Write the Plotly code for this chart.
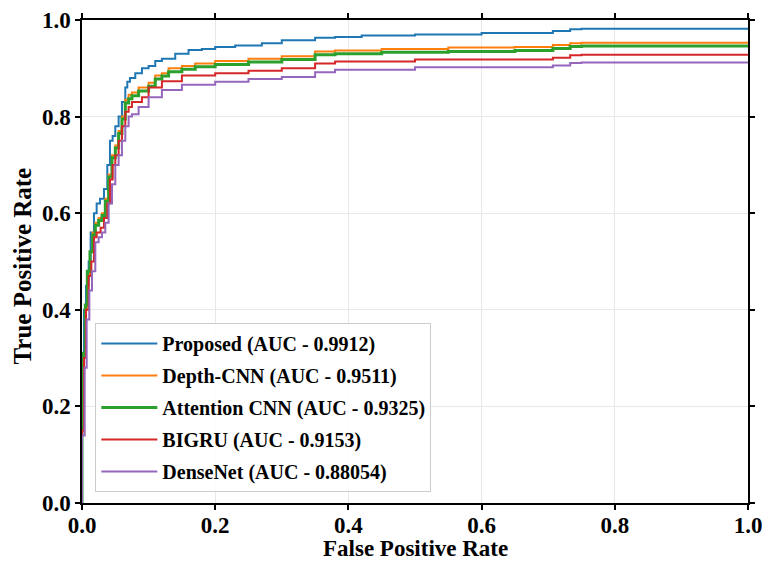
import plotly.graph_objects as go

names = ["Proposed (AUC - 0.9912)", "Depth-CNN (AUC - 0.9511)", "Attention CNN (AUC - 0.9325)",
         "BIGRU (AUC - 0.9153)", "DenseNet (AUC - 0.88054)"]
colors = ["#1f77b4", "#ff7f0e", "#2ca02c", "#d62728", "#9467bd"]
widths = [2, 2, 3, 2, 2]

prop_fpr = [0, 0.0, 0.003, 0.006, 0.01, 0.013, 0.018, 0.022, 0.027, 0.033, 0.038, 0.042, 0.046, 0.05, 0.055, 0.06,
            0.065, 0.068, 0.072, 0.08, 0.09, 0.1, 0.11, 0.12, 0.14, 0.16, 0.18, 0.2, 0.23, 0.27, 0.3, 0.35, 0.38,
            0.42, 0.5, 0.6, 0.707, 0.733, 0.75, 1.0]
prop_tpr = [0, 0.15, 0.3, 0.4, 0.45, 0.5, 0.56, 0.6, 0.62, 0.63, 0.65, 0.7, 0.75, 0.76, 0.78, 0.8,
            0.83, 0.86, 0.872, 0.88, 0.89, 0.9, 0.905, 0.915, 0.92, 0.93, 0.938, 0.94, 0.944, 0.947, 0.952, 0.958, 0.963,
            0.965, 0.968, 0.97, 0.973, 0.977, 0.981, 0.982]

dcnn_fpr = [0, 0.002, 0.005, 0.008, 0.012, 0.016, 0.02, 0.025, 0.03, 0.035, 0.04, 0.045, 0.05, 0.055, 0.06, 0.065,
            0.07, 0.075, 0.085, 0.1, 0.11, 0.12, 0.13, 0.15, 0.17, 0.2, 0.25, 0.3, 0.35, 0.38, 0.45, 0.55, 0.65,
            0.707, 0.733, 0.75, 1.0]
dcnn_tpr = [0, 0.15, 0.3, 0.4, 0.47, 0.52, 0.56, 0.58, 0.59, 0.6, 0.63, 0.68, 0.72, 0.74, 0.77, 0.8,
            0.835, 0.845, 0.85, 0.86, 0.87, 0.885, 0.89, 0.9, 0.905, 0.91, 0.915, 0.92, 0.925, 0.935, 0.937, 0.94, 0.943,
            0.944, 0.948, 0.952, 0.953]

att_fpr = [0, 0.002, 0.005, 0.008, 0.012, 0.016, 0.02, 0.025, 0.03, 0.035, 0.04, 0.045, 0.05, 0.055, 0.06, 0.065,
           0.07, 0.075, 0.085, 0.1, 0.11, 0.12, 0.13, 0.15, 0.17, 0.2, 0.25, 0.3, 0.35, 0.38, 0.45, 0.55, 0.65,
           0.707, 0.733, 0.75, 1.0]
att_tpr = [0, 0.16, 0.31, 0.41, 0.48, 0.52, 0.555, 0.575, 0.585, 0.595, 0.625, 0.675, 0.715, 0.735, 0.765, 0.795,
           0.828, 0.837, 0.843, 0.853, 0.863, 0.878, 0.884, 0.893, 0.898, 0.903, 0.908, 0.913, 0.918, 0.928, 0.93, 0.933, 0.935,
           0.937, 0.941, 0.945, 0.946]

bigru_fpr = [0, 0.003, 0.006, 0.01, 0.014, 0.018, 0.022, 0.028, 0.033, 0.038, 0.042, 0.046, 0.05, 0.055, 0.06, 0.065,
             0.07, 0.075, 0.09, 0.1, 0.12, 0.15, 0.2, 0.25, 0.3, 0.35, 0.38, 0.5, 0.707, 0.733, 0.75, 1.0]
bigru_tpr = [0, 0.15, 0.3, 0.4, 0.47, 0.5, 0.55, 0.56, 0.57, 0.59, 0.62, 0.67, 0.7, 0.72, 0.75, 0.78,
             0.81, 0.82, 0.83, 0.84, 0.86, 0.873, 0.885, 0.89, 0.895, 0.9, 0.91, 0.914, 0.918, 0.922, 0.927, 0.928]

dense_fpr = [0, 0.004, 0.007, 0.011, 0.015, 0.02, 0.025, 0.03, 0.035, 0.04, 0.045, 0.05, 0.055, 0.06, 0.065, 0.07,
             0.075, 0.085, 0.1, 0.12, 0.15, 0.2, 0.25, 0.3, 0.35, 0.38, 0.5, 0.707, 0.733, 0.75, 1.0]
dense_tpr = [0, 0.14, 0.28, 0.38, 0.44, 0.48, 0.54, 0.55, 0.56, 0.58, 0.62, 0.66, 0.7, 0.72, 0.75, 0.78,
             0.8, 0.805, 0.82, 0.84, 0.855, 0.866, 0.872, 0.878, 0.882, 0.892, 0.897, 0.902, 0.906, 0.911, 0.912]

fprs = [prop_fpr, dcnn_fpr, att_fpr, bigru_fpr, dense_fpr]
tprs = [prop_tpr, dcnn_tpr, att_tpr, bigru_tpr, dense_tpr]

tick_vals = [0.0, 0.2, 0.4, 0.6, 0.8, 1.0]
tick_text = ["0.0", "0.2", "0.4", "0.6", "0.8", "1.0"]
x_title = "False Positive Rate"
y_title = "True Positive Rate"

font_family = "Liberation Serif"

fig = go.Figure()
for i in range(5):
    fig.add_trace(go.Scatter(
        x=fprs[i], y=tprs[i], mode="lines", name=names[i],
        line=dict(color=colors[i], width=widths[i], shape="vh"),
        legendgroup=str(i),
    ))

axis_common = dict(
    range=[0, 1], showline=True, linecolor="black", linewidth=1.5, mirror="ticks",
    ticks="outside", ticklen=5, tickwidth=1.5, tickcolor="black",
    showgrid=True, gridcolor="#e8e8e8", gridwidth=1, zeroline=False,
    tickvals=tick_vals, ticktext=tick_text, automargin=False,
    tickfont=dict(family=font_family, size=23, color="black", weight="bold"),
)

fig.update_xaxes(**axis_common, ticklabelstandoff=-4)
fig.update_yaxes(**axis_common)

fig.add_annotation(text="<b>" + x_title + "</b>", xref="paper", yref="paper", x=0.5, y=0,
                   xanchor="center", yanchor="middle", yshift=-45, showarrow=False,
                   font=dict(family=font_family, size=23, color="black"))
fig.add_annotation(text="<b>" + y_title + "</b>", xref="paper", yref="paper", x=0, y=0.5,
                   xanchor="center", yanchor="middle", xshift=-60, yshift=-5, textangle=-90, showarrow=False,
                   font=dict(family=font_family, size=25, color="black"))

fig.update_layout(
    width=764, height=561,
    margin=dict(l=82, r=16, t=20, b=58),
    plot_bgcolor="white", paper_bgcolor="white",
    legend=dict(
        x=0.02, y=0.023, xanchor="left", yanchor="bottom",
        bgcolor="rgba(255,255,255,0.85)", bordercolor="#cccccc", borderwidth=1,
        font=dict(family=font_family, size=20, color="black", weight="bold"),
        traceorder="grouped", tracegroupgap=3, itemwidth=56,
    ),
)

fig.write_html("out.html")
